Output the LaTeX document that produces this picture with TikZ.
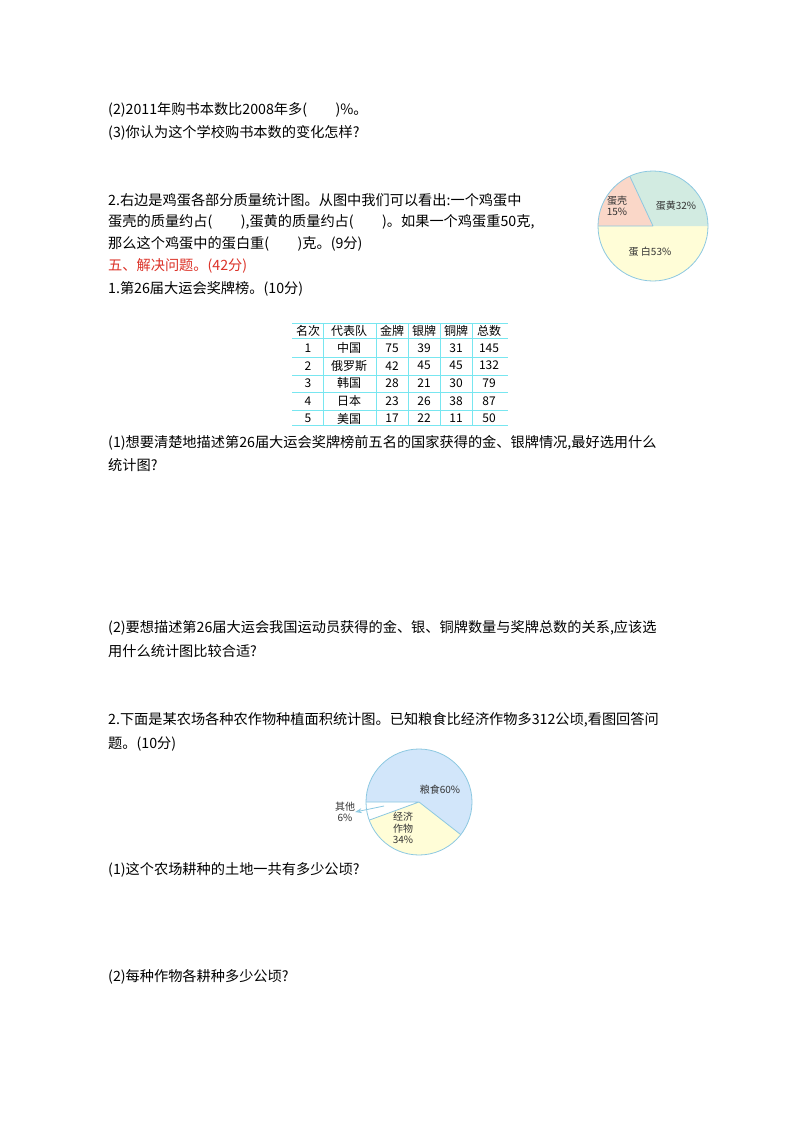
\documentclass[tikz,border=0pt]{standalone}
\usepackage{fontspec}
\setmainfont{Noto Sans CJK SC}
\usetikzlibrary{arrows.meta}
\definecolor{pline}{RGB}{140,200,225}
\definecolor{pyel}{RGB}{255,253,215}
\definecolor{pgrn}{RGB}{210,235,225}
\definecolor{ppink}{RGB}{250,215,200}
\definecolor{pblue}{RGB}{210,230,250}
\definecolor{tline}{RGB}{120,230,240}
\definecolor{tred}{RGB}{220,50,40}
\begin{document}
\begin{tikzpicture}[x=1pt,y=-1pt,
  txt/.style={anchor=west,inner sep=0pt,font=\fontsize{14.2}{16}\selectfont},
  cell/.style={inner sep=0pt,font=\fontsize{12}{13}\selectfont},
  lbl/.style={inner sep=0pt,font=\fontsize{10}{11.5}\selectfont,align=center,text=black!80}]
\useasboundingbox[fill=white] (0,0) rectangle (800,1132);
\node[txt] (l1) at (108,110) {(2)2011年购书本数比2008年多(\hspace{2em})\%。};
\node[txt] (l2) at (108,133) {(3)你认为这个学校购书本数的变化怎样?};
\node[txt] (l3) at (108,200) {2.右边是鸡蛋各部分质量统计图。从图中我们可以看出:一个鸡蛋中};
\node[txt] (l4) at (108,222) {蛋壳的质量约占(\hspace{2em}),蛋黄的质量约占(\hspace{2em})。如果一个鸡蛋重50克,};
\node[txt] (l5) at (108,244) {那么这个鸡蛋中的蛋白重(\hspace{2em})克。(9分)};
\node[txt,text=tred] (l6) at (108,266) {五、解决问题。(42分)};
\node[txt] (l7) at (108,289) {1.第26届大运会奖牌榜。(10分)};
\node[txt] (l8) at (108,443) {(1)想要清楚地描述第26届大运会奖牌榜前五名的国家获得的金、银牌情况,最好选用什么};
\node[txt] (l9) at (108,465) {统计图?};
\node[txt] (l10) at (108,628) {(2)要想描述第26届大运会我国运动员获得的金、银、铜牌数量与奖牌总数的关系,应该选};
\node[txt] (l11) at (108,651) {用什么统计图比较合适?};
\node[txt] (l12) at (108,720) {2.下面是某农场各种农作物种植面积统计图。已知粮食比经济作物多312公顷,看图回答问};
\node[txt] (l13) at (108,744) {题。(10分)};
\node[txt] (l14) at (108,870) {(1)这个农场耕种的土地一共有多少公顷?};
\node[txt] (l15) at (108,977) {(2)每种作物各耕种多少公顷?};
% egg pie (y axis points down, so angles are mirrored)
\coordinate (ec) at (653,226);
\begin{scope}[draw=pline,line width=0.8pt]
\fill[pyel] (ec) -- +(180:55) arc[start angle=180,end angle=0,radius=55] -- cycle;
\fill[pgrn] (ec) -- +(0:55) arc[start angle=0,end angle=-115,radius=55] -- cycle;
\fill[ppink] (ec) -- +(-115:55) arc[start angle=-115,end angle=-180,radius=55] -- cycle;
\draw (ec) -- +(-115:55) (ec) -- +(180:55);
\draw (ec) circle[radius=55];
\end{scope}
\node[lbl] (e1) at (617,206) {蛋壳\\15\%};
\node[lbl] (e2) at (676,206) {蛋黄32\%};
\node[lbl] (e3) at (650,252) {蛋 白53\%};
% table
\begin{scope}[draw=tline,line width=0.6pt]
\foreach \y in {323,338,357,375,392,410,425} \draw (292,\y) -- (508,\y);
\foreach \x in {323,376,408,440,472} \draw (\x,323) -- (\x,425);
\end{scope}
\foreach \a/\b/\c/\d/\e/\f [count=\i] in {名次/代表队/金牌/银牌/铜牌/总数,1/中国/75/39/31/145,2/俄罗斯/42/45/45/132,3/韩国/28/21/30/79,4/日本/23/26/38/87,5/美国/17/22/11/50}{
  \pgfmathsetmacro{\yy}{330.5+(\i-1)*17.6}
  \node[cell] (t\i a) at (308,\yy) {\a};
  \node[cell] (t\i b) at (349,\yy) {\b};
  \node[cell] (t\i c) at (392,\yy) {\c};
  \node[cell] (t\i d) at (424,\yy) {\d};
  \node[cell] (t\i e) at (456,\yy) {\e};
  \node[cell] (t\i f) at (489,\yy) {\f};
}
% crop pie
\coordinate (cc) at (419,802);
\begin{scope}[draw=pline,line width=0.8pt]
\fill[pblue] (cc) -- +(-180:53) arc[start angle=-180,end angle=38,radius=53] -- cycle;
\fill[pyel] (cc) -- +(38:53) arc[start angle=38,end angle=160,radius=53] -- cycle;
\draw (cc) -- +(180:53) (cc) -- +(160:53) (cc) -- +(38:53);
\draw (cc) circle[radius=53];
\end{scope}
\node[lbl] (g1) at (440,790) {粮食60\%};
\node[lbl] (g2) at (403,828) {经济\\作物\\34\%};
\node[lbl] (g3) at (345,812) {其他\\6\%};
\coordinate (ar) at (384,806);
\draw[pline,line width=0.8pt,-{Stealth[open]}] (ar) -- (g3.east);
\end{tikzpicture}
\end{document}
